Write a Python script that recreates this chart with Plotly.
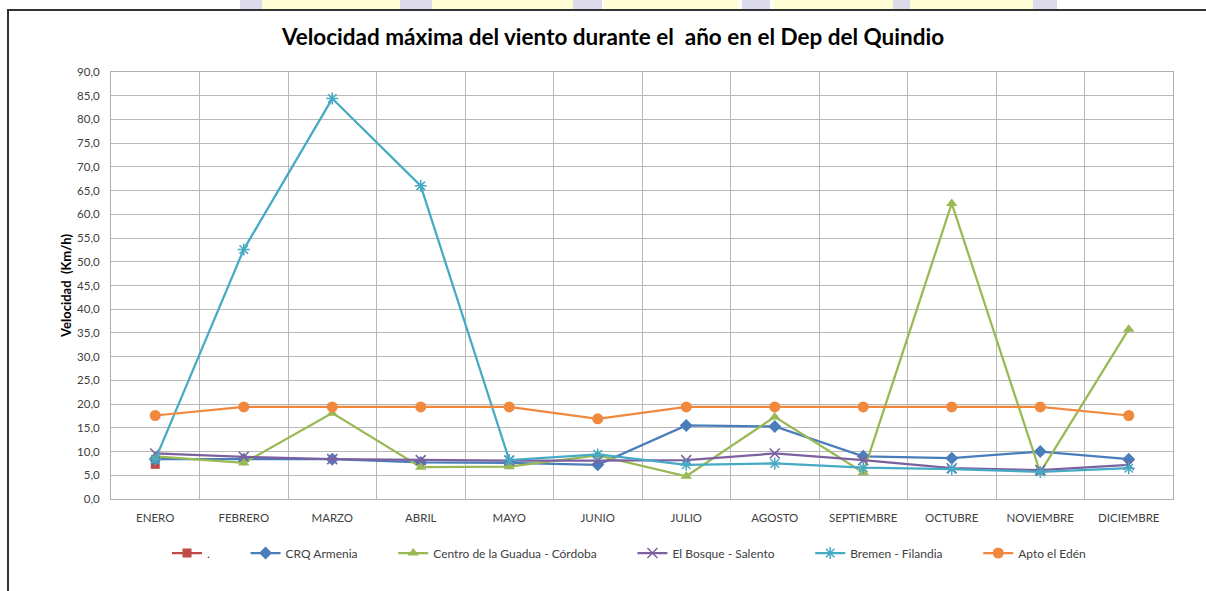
import plotly.graph_objects as go

months = ["ENERO", "FEBRERO", "MARZO", "ABRIL", "MAYO", "JUNIO", "JULIO",
          "AGOSTO", "SEPTIEMBRE", "OCTUBRE", "NOVIEMBRE", "DICIEMBRE"]
serie_punto = [7.3, None, None, None, None, None, None, None, None, None, None, None]
crq_armenia = [8.4, 8.4, 8.4, 7.7, 7.6, 7.2, 15.5, 15.3, 9.0, 8.6, 10.0, 8.4]
centro_guadua = [9.0, 7.6, 18.1, 6.7, 6.8, 9.2, 4.8, 17.3, 5.6, 62.3, 5.6, 35.8]
el_bosque = [9.6, 8.9, 8.4, 8.2, 8.1, 8.1, 8.2, 9.6, 8.2, 6.5, 6.1, 7.2]
bremen = [8.3, 52.6, 84.4, 66.0, 8.2, 9.4, 7.2, 7.5, 6.6, 6.3, 5.7, 6.5]
apto_eden = [17.6, 19.4, 19.4, 19.4, 19.4, 16.9, 19.4, 19.4, 19.4, 19.4, 19.4, 17.6]
y_ticks = [v * 5 for v in range(19)]

FONT = "Lato, 'Open Sans', Arial, sans-serif"
xs = list(range(len(months)))
PAD = "\u00a0" * 10  # spacing after each legend label

series = [
    (".", serie_punto, "#BE4B48", dict(symbol="square", size=9)),
    ("CRQ Armenia", crq_armenia, "#4A7EBB", dict(symbol="diamond", size=10)),
    ("Centro de la Guadua - Córdoba", centro_guadua, "#98B954", dict(symbol="triangle-up", size=10)),
    ("El Bosque - Salento", el_bosque, "#7D60A0", dict(symbol="x-thin-open", size=10, line=dict(width=1.5, color="#7D60A0"))),
    ("Bremen - Filandia", bremen, "#46AAC5", dict(symbol="asterisk-open", size=10, line=dict(width=1.5, color="#46AAC5"))),
    ("Apto el Edén", apto_eden, "#F0883E", dict(symbol="circle", size=11)),
]

fig = go.Figure()
for name, vals, color, mk in series:
    mk = dict(mk)
    mk["color"] = color
    fig.add_trace(go.Scatter(
        x=xs, y=vals, name=name + PAD, mode="lines+markers",
        line=dict(color=color, width=2.25), marker=mk,
    ))

# Plot area geometry (pixels) used to place decorations
W, H = 1206, 591
L, R, T, B = 111, 33, 72, 92
pw, ph = W - L - R, H - T - B

def px(x):
    return (x - L) / pw

def py(y):
    return (H - B - y) / ph

shapes = []
strip = [(240, 262, "#DDDAEB"), (262, 400, "#FFFDD6"), (400, 432, "#DDDAEB"),
         (432, 573, "#FFFDD6"), (573, 602, "#DDDAEB"), (604, 739, "#FFFDD6"),
         (742, 770, "#DDDAEB"), (773, 893, "#FFFDD6"), (893, 910, "#DDDAEB"),
         (910, 1033, "#FFFDD6"), (1033, 1057, "#DDDAEB")]
for x0, x1, c in strip:
    shapes.append(dict(type="rect", xref="paper", yref="paper", x0=px(x0), x1=px(x1),
                       y0=py(9), y1=py(0), fillcolor=c, line=dict(width=0), layer="below"))
shapes.append(dict(type="line", xref="paper", yref="paper", x0=px(7), x1=px(1206),
                   y0=py(10), y1=py(10), line=dict(color="#333333", width=2)))
shapes.append(dict(type="line", xref="paper", yref="paper", x0=px(8), x1=px(8),
                   y0=py(10), y1=py(591), line=dict(color="#333333", width=2)))

fig.update_layout(
    width=W, height=H,
    margin=dict(l=L, r=R, t=T, b=B),
    paper_bgcolor="white", plot_bgcolor="white",
    separators=",.",
    font=dict(family=FONT, color="#404040", size=11.5),
    title=dict(text="<b>Velocidad máxima del viento durante el  año en el Dep del Quindio</b>",
               x=613 / W, xref="container", xanchor="center", y=1 - 37 / H, yanchor="middle",
               font=dict(family=FONT, size=22.5, color="#000000")),
    showlegend=True,
    legend=dict(orientation="h", x=px(167), xanchor="left", y=py(553), yanchor="middle",
                font=dict(family=FONT, size=12, color="#404040"),
                itemwidth=30, tracegroupgap=0, bgcolor="rgba(0,0,0,0)"),
    shapes=shapes,
)

fig.update_xaxes(
    range=[-0.5, 11.5], tickmode="array", tickvals=xs, ticktext=months,
    showgrid=False, zeroline=False, ticks="", ticklabelstandoff=8,
    tickfont=dict(size=11.5, color="#404040"),
    showline=True, linecolor="#B0B0B0", linewidth=1, mirror=True,
    minor=dict(tick0=-0.5, dtick=1, showgrid=True, gridcolor="#B8B8B8", gridwidth=1, ticks=""),
)
fig.update_yaxes(
    range=[0, 90], tickmode="array", tickvals=y_ticks, tickformat=".1f",
    showgrid=True, gridcolor="#B8B8B8", gridwidth=1, zeroline=False,
    showline=True, linecolor="#B0B0B0", linewidth=1, mirror=True,
    ticks="", ticklabelstandoff=8, tickfont=dict(size=11.5, color="#404040"),
    title=dict(text="<b>Velocidad  (Km/h)</b>", standoff=2,
               font=dict(size=13, color="#000000", family=FONT)),
)

fig.write_html("out.html", config={"displayModeBar": False},
               post_script="document.body.style.margin='0';document.body.style.overflow='hidden';")
